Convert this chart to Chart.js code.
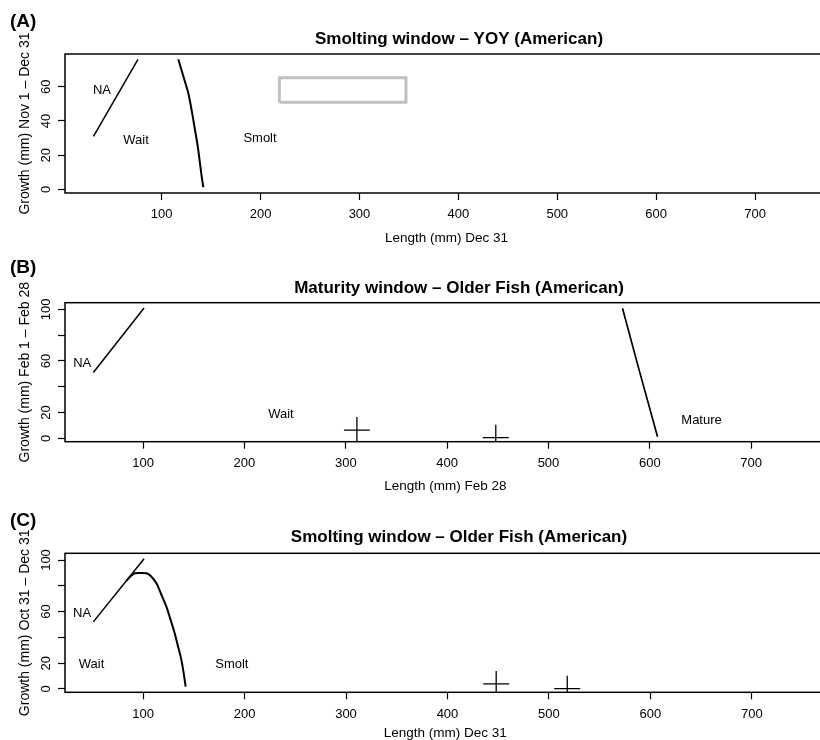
<!DOCTYPE html>
<html><head><meta charset="utf-8">
<script src="https://cdn.jsdelivr.net/npm/chart.js@4/dist/chart.umd.min.js"></script>
<style>
html,body{margin:0;padding:0;background:#fff;overflow:hidden;width:820px;height:740px;position:relative;}
.p{position:absolute;left:0;}
canvas{display:block;}
</style></head><body>
<div class="p" style="top:0px"><canvas id="cA" width="840" height="250"></canvas></div>
<div class="p" style="top:250px"><canvas id="cB" width="840" height="250"></canvas></div>
<div class="p" style="top:500px"><canvas id="cC" width="840" height="240"></canvas></div>
<script>
const FONT = '"Liberation Sans", Arial, Helvetica, sans-serif';
const xTickValues = [100, 200, 300, 400, 500, 600, 700];

// Panel A: Smolting window - YOY
const yTicksA = [0, 20, 40, 60];
const yTickLabelsA = ['0', '20', '40', '60'];
const naA_len = [31, 76];
const naA_growth = [31, 76];
const smoltA_len = [116.8, 121.5, 126.9, 130.6, 133.7, 136.7, 138.7, 140.8, 142.1];
const smoltA_growth = [76, 66.8, 56.2, 45.2, 34.7, 24.2, 15.3, 6, 1.3];
const boxA_len = [219, 347, 347, 219, 219];
const boxA_growth = [50.9, 50.9, 65.3, 65.3, 50.9];
const regionA_text = ['NA', 'Wait', 'Smolt'];
const regionA_len = [39.6, 74, 199.4];
const regionA_growth = [58.7, 29.3, 30.2];

// Panel B: Maturity window - Older Fish
const yTicksB = [0, 20, 40, 60, 80, 100];
const yTickLabelsB = ['0', '20', '', '60', '', '100'];
const naB_len = [51, 101];
const naB_growth = [51, 101];
const matureB_len = [573, 590, 607.6];
const matureB_growth = [100.8, 51.3, 1.2];
const crossB_len = [311, 448];
const crossB_growth = [6.4, 0.5];
const regionB_text = ['NA', 'Wait', 'Mature'];
const regionB_len = [40, 236, 651];
const regionB_growth = [58.9, 19.4, 15];

// Panel C: Smolting window - Older Fish
const yTicksC = [0, 20, 40, 60, 80, 100];
const yTickLabelsC = ['0', '20', '', '60', '', '100'];
const naC_len = [51, 101];
const naC_growth = [52, 101];
const curveC_len = [83.7, 88, 91.8, 97, 103.3, 107.6, 113.2, 117.4, 123, 127.2, 131.2, 134.6, 137.8, 140, 142];
const curveC_growth = [84, 87.5, 89.7, 90, 89.7, 87.6, 81.9, 74.4, 63.8, 53.5, 43.2, 32.6, 22.5, 12.4, 1.8];
const crossC_len = [448, 518];
const crossC_growth = [3.9, 0.2];
const regionC_text = ['NA', 'Wait', 'Smolt'];
const regionC_len = [40, 49.3, 187.5];
const regionC_growth = [59.4, 19.6, 19.6];

function pts(xs, ys) { return xs.map((x, i) => ({ x: x, y: ys[i] })); }
function lineDs(xs, ys, w, color) {
  return { data: pts(xs, ys), showLine: true, pointRadius: 0, borderColor: color || '#000',
           borderWidth: w, fill: false, tension: 0, clip: 0, borderJoinStyle: 'miter' };
}
function crossDs(xs, ys) {
  return { data: pts(xs, ys), showLine: false, pointStyle: 'cross', pointRadius: 13,
           pointBorderColor: '#000', pointBackgroundColor: '#000', pointBorderWidth: 1.3, clip: 0 };
}

function textPlugin(P) {
  return {
    id: 'txt' + P.id,
    beforeDraw(chart) {
      const c = chart.ctx; c.save(); c.fillStyle = '#fff'; c.fillRect(0, 0, chart.width, chart.height); c.restore();
    },
    afterDraw(chart) {
      const c = chart.ctx, a = chart.chartArea, xs = chart.scales.x, ys = chart.scales.y;
      c.save();
      c.strokeStyle = '#000'; c.lineWidth = 1.5;
      c.strokeRect(a.left, a.top, a.right - a.left, a.bottom - a.top);
      c.fillStyle = '#000';
      c.textBaseline = 'alphabetic';
      c.font = 'bold 19px ' + FONT; c.textAlign = 'left';
      c.fillText(P.tag, 10, P.tagY);
      c.font = 'bold 17px ' + FONT; c.textAlign = 'center';
      c.fillText(P.title, 459, P.titleY);
      c.font = '13.5px ' + FONT;
      c.fillText(P.xTitle, (a.left + a.right) / 2, P.xTitleY);
      c.save();
      c.translate(28.5, (a.top + a.bottom) / 2); c.rotate(-Math.PI / 2);
      c.font = '14px ' + FONT; c.fillText(P.yTitle, 0, 0);
      c.restore();
      c.font = '13px ' + FONT;
      P.yTicks.forEach((v, i) => {
        const lbl = P.yTickLabels[i]; if (!lbl) return;
        c.save(); c.translate(49.5, ys.getPixelForValue(v)); c.rotate(-Math.PI / 2);
        c.fillText(lbl, 0, 0); c.restore();
      });
      P.regionText.forEach((t, i) => {
        c.fillText(t, xs.getPixelForValue(P.regionX[i]), ys.getPixelForValue(P.regionY[i]) + 4.6);
      });
      c.restore();
    }
  };
}

function panel(P) {
  const gridOpts = { display: true, drawOnChartArea: false, drawTicks: true, tickLength: 7, tickWidth: 1.2, tickColor: '#000' };
  new Chart(document.getElementById(P.id), {
    type: 'scatter',
    data: { datasets: P.datasets },
    options: {
      responsive: false, animation: false, events: [],
      layout: { padding: { left: 0, right: 12, top: P.boxTop, bottom: 0 } },
      plugins: { legend: { display: false }, tooltip: { enabled: false }, title: { display: false } },
      scales: {
        x: {
          type: 'linear', min: P.xMin, max: P.xMax,
          afterBuildTicks: s => { s.ticks = xTickValues.map(v => ({ value: v })); },
          afterFit: s => { s.height = P.canvasH - P.boxBottom; },
          border: { display: false },
          grid: gridOpts,
          ticks: { color: '#000', font: { family: FONT, size: 13 }, padding: 7, maxRotation: 0, minRotation: 0, autoSkip: false, callback: v => String(v) }
        },
        y: {
          type: 'linear', min: P.yMin, max: P.yMax,
          afterBuildTicks: s => { s.ticks = P.yTicks.map(v => ({ value: v })); },
          afterFit: s => { s.width = 65; },
          border: { display: false },
          grid: gridOpts,
          ticks: { display: false }
        }
      }
    },
    plugins: [textPlugin(P)]
  });
}

panel({
  id: 'cA', canvasH: 250, boxTop: 54, boxBottom: 193,
  xMin: 2.2, xMax: 773.8, yMin: -2.04, yMax: 79.1,
  yTicks: yTicksA, yTickLabels: yTickLabelsA,
  tag: '(A)', tagY: 26.7, title: 'Smolting window \u2013 YOY (American)', titleY: 44,
  xTitle: 'Length (mm) Dec 31', xTitleY: 241.7, yTitle: 'Growth (mm) Nov 1 \u2013 Dec 31',
  regionText: regionA_text, regionX: regionA_len, regionY: regionA_growth,
  datasets: [
    lineDs(naA_len, naA_growth, 1.5),
    Object.assign(lineDs(smoltA_len, smoltA_growth, 2), { tension: 0.3 }),
    lineDs(boxA_len, boxA_growth, 3, '#c0c0c0')
  ]
});

panel({
  id: 'cB', canvasH: 250, boxTop: 52.7, boxBottom: 191.7,
  xMin: 23, xMax: 773.5, yMin: -2.6, yMax: 105.1,
  yTicks: yTicksB, yTickLabels: yTickLabelsB,
  tag: '(B)', tagY: 23.3, title: 'Maturity window \u2013 Older Fish (American)', titleY: 43.3,
  xTitle: 'Length (mm) Feb 28', xTitleY: 239.5, yTitle: 'Growth (mm) Feb 1 \u2013 Feb 28',
  regionText: regionB_text, regionX: regionB_len, regionY: regionB_growth,
  datasets: [
    lineDs(naB_len, naB_growth, 1.5),
    lineDs(matureB_len, matureB_growth, 1.7),
    crossDs(crossB_len, crossB_growth)
  ]
});

panel({
  id: 'cC', canvasH: 240, boxTop: 53.3, boxBottom: 192.3,
  xMin: 23.1, xMax: 772.7, yMin: -2.6, yMax: 105.2,
  yTicks: yTicksC, yTickLabels: yTickLabelsC,
  tag: '(C)', tagY: 26, title: 'Smolting window \u2013 Older Fish (American)', titleY: 41.7,
  xTitle: 'Length (mm) Dec 31', xTitleY: 236.5, yTitle: 'Growth (mm) Oct 31 \u2013 Dec 31',
  regionText: regionC_text, regionX: regionC_len, regionY: regionC_growth,
  datasets: [
    lineDs(naC_len, naC_growth, 1.5),
    Object.assign(lineDs(curveC_len, curveC_growth, 2), { tension: 0.3 }),
    crossDs(crossC_len, crossC_growth)
  ]
});
</script>
</body></html>
